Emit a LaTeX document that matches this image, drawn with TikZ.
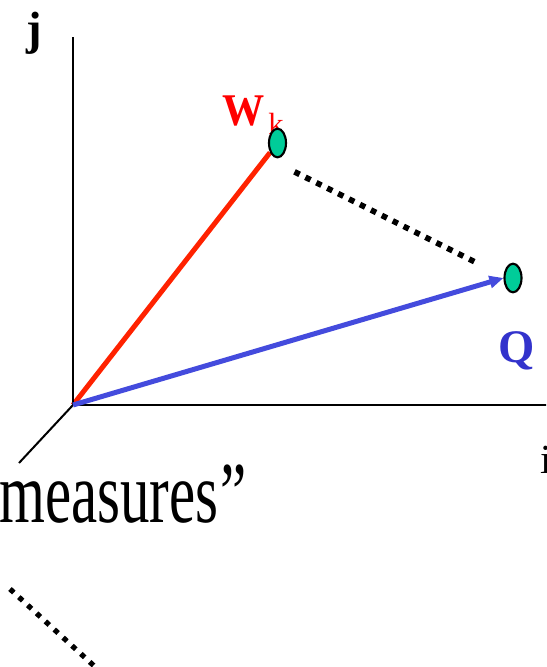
\documentclass[tikz,border=0pt]{standalone}
\usepackage{fontspec}
\setmainfont{Liberation Serif}
\usetikzlibrary{arrows.meta,shapes.geometric,backgrounds}
\definecolor{vred}{RGB}{255,34,0}
\definecolor{lblred}{RGB}{255,0,0}
\definecolor{vblue}{RGB}{68,75,221}
\definecolor{lblblue}{RGB}{51,51,204}
\definecolor{ptgreen}{RGB}{0,204,153}
\begin{document}
\begin{tikzpicture}[x=0.75pt,y=-0.75pt,
  axis/.style={line width=1.5pt, black},
  vec/.style={line width=3.75pt},
  ptmark/.style={ellipse, draw=black, line width=1.6pt, fill=ptgreen,
    minimum width=12.75pt, minimum height=21.5pt, inner sep=0pt},
  dots/.style={line width=4.3pt, dash pattern=on 4.3pt off 4.85pt, black},
  lbl/.style={inner sep=0pt, anchor=base west}
]
\useasboundingbox (0,0) rectangle (546,667);
\clip (0,0) rectangle (546,667);
% axes
\coordinate (O) at (73,405);
\coordinate (jtop) at (73,37);
\coordinate (iend) at (548,405);
\coordinate (kend) at (19,463);
\draw[axis] (O) -- (jtop);
\draw[axis] (O) -- (iend);
\draw[axis] (O) -- (kend);
% labels
\node[lbl] (jl) at (26,45) {\fontsize{35pt}{40pt}\selectfont\bfseries j};
\node[lbl] (il) at (540,473) {\fontsize{31pt}{36pt}\selectfont i};
\node[lbl, xscale=0.93] (wl) at (222,125) {\fontsize{34pt}{38pt}\selectfont\bfseries\color{lblred}W};
\node[lbl] (kl) at (268,134) {\fontsize{23pt}{27pt}\selectfont\color{lblred}k};
\node[lbl] (ql) at (498,362) {\fontsize{35pt}{40pt}\selectfont\bfseries\color{lblblue}Q};
\node[lbl, xscale=0.68] (ml) at (-1,522) {\fontsize{65pt}{70pt}\selectfont measures\kern0.03em”};
% points
\node[ptmark] (W) at (277.5,143) {};
\node[ptmark] (Q) at (513,278) {};
% vectors
\begin{scope}[on background layer]
\draw[vec, vred] (O) -- (W);
\end{scope}
\draw[vec, vblue, -{Triangle[length=10.5pt, width=9pt]}] (O) -- (Q.west);
% dotted lines
\coordinate (d1s) at (294.5,171.8);
\coordinate (d1e) at (475,262);
\draw[dots] (d1s) -- (d1e);
\coordinate (d2s) at (10,589);
\coordinate (d2e) at (104,675);
\draw[dots, line width=3.9pt, dash pattern=on 3.9pt off 5.1pt] (d2s) -- (d2e);
\end{tikzpicture}
\end{document}
